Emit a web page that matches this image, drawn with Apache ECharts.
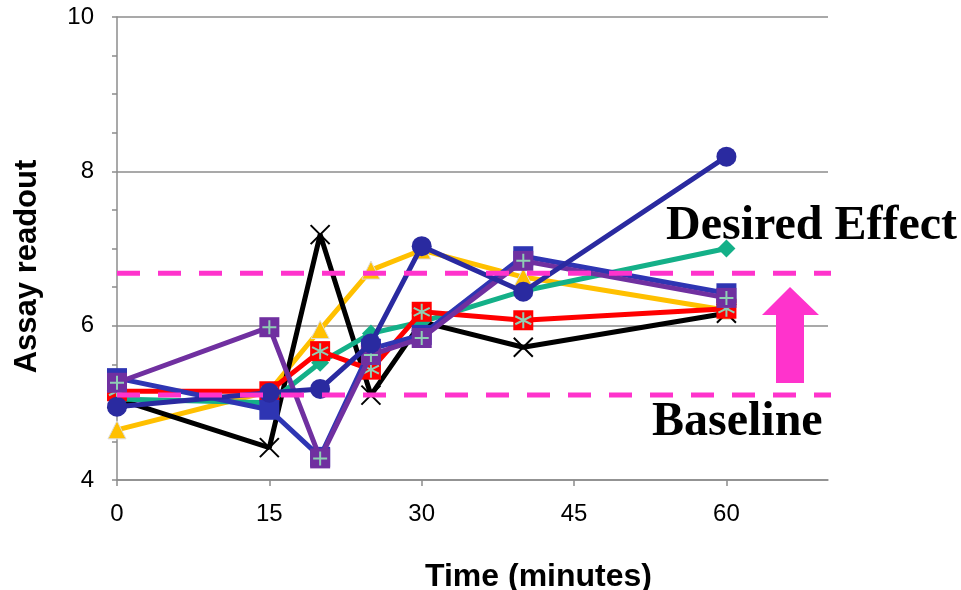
<!DOCTYPE html>
<html>
<head>
<meta charset="utf-8">
<script src="https://cdn.jsdelivr.net/npm/echarts@6/dist/echarts.min.js"></script>
<style>
html,body{margin:0;padding:0;background:#fff;}
#c{width:961px;height:590px;}
</style>
</head>
<body>
<div id="c"></div>
<script>
// ---- data ----
var times = [0, 15, 20, 25, 30, 40, 60];
var blackX = [5.05, 4.42, 7.18, 5.10, 6.05, 5.72, 6.16];
var goldTri = [4.65, 5.15, 5.95, 6.72, 6.98, 6.63, 6.20];
var tealDia = [5.05, 5.00, 5.52, 5.90, 6.05, 6.45, 7.00];
var redAst = [5.15, 5.15, 5.67, 5.43, 6.18, 6.07, 6.22];
var blueSq = [5.32, 4.91, 4.30, 5.70, 5.88, 6.90, 6.42];
var purplePlus = [5.26, 5.98, 4.28, 5.62, 5.84, 6.84, 6.36];
var navyCircle = [4.95, 5.13, 5.18, 5.77, 7.03, 6.44, 8.19];
var xTicks = [0, 15, 30, 45, 60];
var desiredLevel = 6.68;
var baselineLevel = 5.10;
var refSpan = [0, 72.6];

function pairs(vals) { return times.map(function (t, i) { return [t, vals[i]]; }); }
function refLine(v) { return refSpan.map(function (x) { return [x, v]; }); }

var XPATH = 'path://M0,0L10,10M10,0L0,10';
var PLUS = 'path://M5,0L5,10M0,5L10,5';
var AST = 'path://M5,0L5,10M0.7,2.5L9.3,7.5M9.3,2.5L0.7,7.5';
var LW = 5;

function lineSeries(name, vals, color, symbol, size, z, extraItem) {
  return {
    name: name, type: 'line', data: pairs(vals), z: z,
    symbol: symbol, symbolSize: size, showAllSymbol: true,
    lineStyle: { color: color, width: LW },
    itemStyle: Object.assign({ color: color, opacity: 1 }, extraItem || {}),
    emphasis: { disabled: true }
  };
}
function overlay(vals, path, size, z) {
  return {
    type: 'line', data: pairs(vals), z: z,
    symbol: path, symbolSize: size, showAllSymbol: true,
    lineStyle: { width: 0, opacity: 0 },
    itemStyle: { color: 'transparent', borderColor: '#8fcfb4', borderWidth: 2 },
    emphasis: { disabled: true }
  };
}

var chart = echarts.init(document.getElementById('c'), null, { renderer: 'canvas' });
chart.setOption({
  animation: false,
  backgroundColor: '#ffffff',
  grid: { left: 117, right: 133, top: 17, bottom: 110, containLabel: false, outerBoundsMode: 'none' },
  xAxis: {
    type: 'value', min: 0, max: 70, interval: 15,
    name: 'Time (minutes)', nameLocation: 'middle', nameGap: 81,
    nameTextStyle: { fontFamily: 'Liberation Sans, Arial, sans-serif', fontWeight: 'bold', fontSize: 32, color: '#000', padding: [0, 0, 0, 132] },
    axisLine: { show: true, lineStyle: { color: '#8c8c8c', width: 1.5 } },
    axisTick: { show: true, length: 6, lineStyle: { color: '#8c8c8c', width: 1.5 }, customValues: xTicks },
    axisLabel: { fontFamily: 'Liberation Sans, Arial, sans-serif', fontSize: 24, color: '#000', margin: 22, customValues: xTicks },
    splitLine: { show: false }
  },
  yAxis: {
    type: 'value', min: 4, max: 10, interval: 2,
    name: 'Assay readout', nameLocation: 'middle', nameGap: 74,
    nameTextStyle: { fontFamily: 'Liberation Sans, Arial, sans-serif', fontWeight: 'bold', fontSize: 31, color: '#000', padding: [0, 36, 0, 0] },
    axisLine: { show: true, lineStyle: { color: '#8c8c8c', width: 1.5 } },
    axisTick: { show: true, length: 5, lineStyle: { color: '#8c8c8c', width: 1.5 } },
    minorTick: { show: true, splitNumber: 4, length: 5, lineStyle: { color: '#8c8c8c', width: 1.5 } },
    axisLabel: { fontFamily: 'Liberation Sans, Arial, sans-serif', fontSize: 24, color: '#000', margin: 23 },
    splitLine: { show: true, lineStyle: { color: '#8c8c8c', width: 1.5 } }
  },
  series: [
    lineSeries('Gold', goldTri, '#ffc000', 'triangle', 18, 2, { borderColor: '#dddddd', borderWidth: 1 }),
    lineSeries('Black', blackX, '#000000', XPATH, 19, 3, { color: 'transparent', borderColor: '#000000', borderWidth: 2 }),
    lineSeries('Teal', tealDia, '#14b088', 'diamond', 18, 4),
    lineSeries('Red', redAst, '#ff0000', 'rect', 20, 5),
    overlay(redAst, AST, 16, 6),
    lineSeries('Blue', blueSq, '#2e35b3', 'rect', 20, 7),
    lineSeries('Purple', purplePlus, '#7030a0', 'rect', 20, 8),
    overlay(purplePlus, PLUS, 14, 9),
    lineSeries('Navy', navyCircle, '#2a2aa0', 'circle', 20, 10),
    {
      type: 'line', data: refLine(desiredLevel), clip: false, z: 20, symbol: 'none',
      lineStyle: { color: '#ff33cc', width: 5, type: [23, 18] }, emphasis: { disabled: true }
    },
    {
      type: 'line', data: refLine(baselineLevel), clip: false, z: 20, symbol: 'none',
      lineStyle: { color: '#ff33cc', width: 5, type: [23, 18] }, emphasis: { disabled: true }
    }
  ],
  graphic: [
    { type: 'polygon', z: 30, shape: { points: [[776, 383], [804, 383], [804, 315], [819, 315], [790, 287], [762, 315], [776, 315]] }, style: { fill: '#ff33cc' } },
    { type: 'text', z: 30, x: 666, y: 227, style: { text: 'Desired Effect', fill: '#000', font: 'bold 48px "Liberation Serif", "Times New Roman", serif', align: 'left', verticalAlign: 'middle' } },
    { type: 'text', z: 30, x: 652, y: 423, style: { text: 'Baseline', fill: '#000', font: 'bold 48px "Liberation Serif", "Times New Roman", serif', align: 'left', verticalAlign: 'middle' } }
  ]
});
</script>
</body>
</html>
